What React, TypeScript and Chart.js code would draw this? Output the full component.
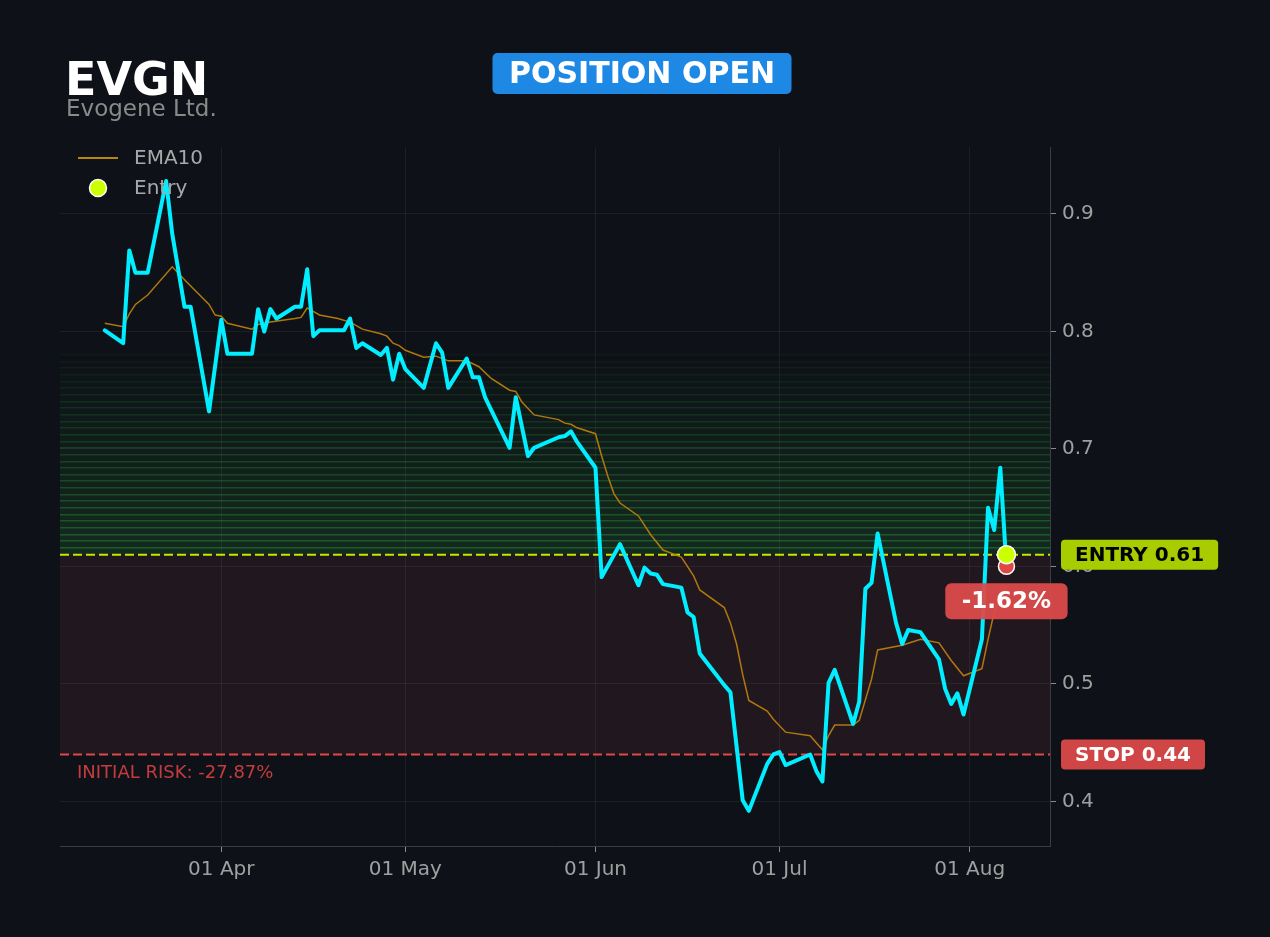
import React, { useEffect, useRef } from "react";
import { Chart, registerables } from "chart.js";

Chart.register(...registerables);

// ---------- data ----------
const closeDates = [
  "2026-03-13", "2026-03-16", "2026-03-17", "2026-03-18", "2026-03-19", "2026-03-20",
  "2026-03-23", "2026-03-24", "2026-03-26", "2026-03-27", "2026-03-30",
  "2026-04-01", "2026-04-02", "2026-04-06", "2026-04-07", "2026-04-08", "2026-04-09", "2026-04-10",
  "2026-04-13", "2026-04-14", "2026-04-15", "2026-04-16", "2026-04-17",
  "2026-04-20", "2026-04-21", "2026-04-22", "2026-04-23", "2026-04-24",
  "2026-04-27", "2026-04-28", "2026-04-29", "2026-04-30", "2026-05-01",
  "2026-05-04", "2026-05-06", "2026-05-07", "2026-05-08",
  "2026-05-11", "2026-05-12", "2026-05-13", "2026-05-14",
  "2026-05-18", "2026-05-19", "2026-05-21", "2026-05-22",
  "2026-05-26", "2026-05-27", "2026-05-28", "2026-05-29",
  "2026-06-01", "2026-06-02", "2026-06-05",
  "2026-06-08", "2026-06-09", "2026-06-10", "2026-06-11", "2026-06-12",
  "2026-06-15", "2026-06-16", "2026-06-17", "2026-06-18",
  "2026-06-22", "2026-06-23", "2026-06-25", "2026-06-26",
  "2026-06-29", "2026-06-30", "2026-07-01", "2026-07-02",
  "2026-07-06", "2026-07-07", "2026-07-08", "2026-07-09", "2026-07-10",
  "2026-07-13", "2026-07-14", "2026-07-15", "2026-07-16", "2026-07-17",
  "2026-07-20", "2026-07-21", "2026-07-22", "2026-07-23", "2026-07-24",
  "2026-07-27", "2026-07-28", "2026-07-29", "2026-07-30", "2026-07-31",
  "2026-08-03", "2026-08-04", "2026-08-05", "2026-08-06", "2026-08-07",
];
const closeValues = [
  0.801, 0.790, 0.869, 0.850, 0.850, 0.850,
  0.928, 0.883, 0.821, 0.821, 0.732,
  0.810, 0.781, 0.781, 0.819, 0.800, 0.819, 0.811,
  0.821, 0.821, 0.853, 0.796, 0.801,
  0.801, 0.801, 0.811, 0.786, 0.790,
  0.780, 0.786, 0.759, 0.781, 0.768,
  0.752, 0.790, 0.782, 0.752,
  0.777, 0.761, 0.761, 0.744,
  0.701, 0.744, 0.694, 0.701,
  0.710, 0.711, 0.715, 0.706,
  0.684, 0.591, 0.619,
  0.584, 0.599, 0.594, 0.593, 0.585,
  0.582, 0.561, 0.557, 0.526,
  0.499, 0.493, 0.401, 0.392,
  0.432, 0.440, 0.442, 0.431,
  0.440, 0.426, 0.417, 0.501, 0.512,
  0.466, 0.485, 0.581, 0.586, 0.628,
  0.552, 0.534, 0.546, 0.545, 0.544,
  0.521, 0.496, 0.483, 0.492, 0.474,
  0.538, 0.650, 0.631, 0.684, 0.600,
];

const emaDates = [
  "2026-03-13", "2026-03-16", "2026-03-17", "2026-03-18", "2026-03-20", "2026-03-24",
  "2026-03-26", "2026-03-30", "2026-03-31", "2026-04-01", "2026-04-02", "2026-04-06",
  "2026-04-07", "2026-04-09", "2026-04-13", "2026-04-14", "2026-04-15", "2026-04-17",
  "2026-04-20", "2026-04-22", "2026-04-24", "2026-04-27", "2026-04-28", "2026-04-29",
  "2026-04-30", "2026-05-01", "2026-05-04", "2026-05-06", "2026-05-08", "2026-05-11",
  "2026-05-13", "2026-05-15", "2026-05-18", "2026-05-19", "2026-05-20", "2026-05-22",
  "2026-05-26", "2026-05-27", "2026-05-28", "2026-05-29", "2026-06-01", "2026-06-02",
  "2026-06-03", "2026-06-04", "2026-06-05", "2026-06-08", "2026-06-10", "2026-06-12",
  "2026-06-15", "2026-06-17", "2026-06-18", "2026-06-22", "2026-06-23", "2026-06-24",
  "2026-06-25", "2026-06-26", "2026-06-29", "2026-06-30", "2026-07-02", "2026-07-06",
  "2026-07-08", "2026-07-09", "2026-07-10", "2026-07-13", "2026-07-14", "2026-07-16",
  "2026-07-17", "2026-07-21", "2026-07-24", "2026-07-27", "2026-07-29", "2026-07-31",
  "2026-08-03", "2026-08-04", "2026-08-05", "2026-08-06", "2026-08-07",
];
const emaValues = [
  0.807, 0.804, 0.815, 0.823, 0.831, 0.855,
  0.844, 0.823, 0.814, 0.813, 0.807, 0.802,
  0.806, 0.808, 0.811, 0.812, 0.820, 0.814,
  0.811, 0.808, 0.802, 0.798, 0.796, 0.790,
  0.788, 0.784, 0.778, 0.779, 0.775, 0.775,
  0.770, 0.760, 0.750, 0.749, 0.740, 0.729,
  0.725, 0.722, 0.721, 0.718, 0.713, 0.694,
  0.677, 0.662, 0.654, 0.643, 0.627, 0.614,
  0.608, 0.592, 0.580, 0.565, 0.552, 0.534,
  0.508, 0.486, 0.477, 0.470, 0.459, 0.456,
  0.444, 0.456, 0.465, 0.465, 0.469, 0.504,
  0.529, 0.533, 0.538, 0.535, 0.520, 0.507,
  0.513, 0.538, 0.561, 0.575, 0.583,
];

const yTickValues = [0.4, 0.5, 0.6, 0.7, 0.8, 0.9];
const xTickDates = ["2026-04-01", "2026-05-01", "2026-06-01", "2026-07-01", "2026-08-01"];
const xTickLabels = ["01 Apr", "01 May", "01 Jun", "01 Jul", "01 Aug"];

const ticker = "EVGN";
const companyName = "Evogene Ltd.";
const statusText = "POSITION OPEN";
const entryDate = "2026-08-07";
const entryPrice = 0.61;
const stopPrice = 0.44;
const lastPrice = 0.6001;
const targetZoneTop = 0.78;

// ---------- helpers ----------
const FONT = "'DejaVu Sans', sans-serif";
const dayNum = (s: string) => {
  const [y, m, d] = s.split("-").map(Number);
  return Date.UTC(y, m - 1, d) / 86400000;
};
const X_MIN = dayNum("2026-04-01") - 26.3;
const X_MAX = dayNum("2026-08-01") + 13.1;

function roundRect(ctx: CanvasRenderingContext2D, x: number, y: number, w: number, h: number, r: number) {
  ctx.beginPath();
  ctx.moveTo(x + r, y);
  ctx.lineTo(x + w - r, y);
  ctx.arcTo(x + w, y, x + w, y + r, r);
  ctx.lineTo(x + w, y + h - r);
  ctx.arcTo(x + w, y + h, x + w - r, y + h, r);
  ctx.lineTo(x + r, y + h);
  ctx.arcTo(x, y + h, x, y + h - r, r);
  ctx.lineTo(x, y + r);
  ctx.arcTo(x, y, x + r, y, r);
  ctx.closePath();
}

const overlayPlugin = {
  id: "overlay",
  beforeDraw(chart: any) {
    const { ctx, chartArea: a, scales } = chart;
    const ys = scales.y;
    ctx.save();
    ctx.fillStyle = "#0e1117";
    ctx.fillRect(0, 0, chart.width, chart.height);
    // risk zone
    const yEntry = ys.getPixelForValue(entryPrice);
    const yStop = ys.getPixelForValue(stopPrice);
    ctx.fillStyle = "#21171f";
    ctx.fillRect(a.left, yEntry, a.right - a.left, yStop - yEntry);
    // green gradient zone made of bands
    const N = 30;
    const step = (targetZoneTop - entryPrice) / N;
    for (let i = 0; i < N; i++) {
      const t = i / N;
      const y0 = ys.getPixelForValue(entryPrice + i * step);
      const y1 = ys.getPixelForValue(entryPrice + (i + 1) * step);
      ctx.fillStyle = `rgba(34,110,50,${0.27 * (1 - t)})`;
      ctx.fillRect(a.left, y1, a.right - a.left, y0 - y1);
      ctx.fillStyle = `rgba(42,130,56,${0.55 * (1 - t) + 0.06})`;
      ctx.fillRect(a.left, Math.round(y1) - 1, a.right - a.left, 1.5);
    }
    ctx.restore();
  },
  beforeDatasetsDraw(chart: any) {
    const { ctx, chartArea: a, scales } = chart;
    const ys = scales.y;
    ctx.save();
    ctx.lineWidth = 2;
    ctx.setLineDash([9, 4]);
    const yEntry = ys.getPixelForValue(entryPrice);
    ctx.strokeStyle = "#c8e600";
    ctx.beginPath();
    ctx.moveTo(a.left, yEntry);
    ctx.lineTo(a.right, yEntry);
    ctx.stroke();
    const yStop = ys.getPixelForValue(stopPrice);
    ctx.strokeStyle = "#e04848";
    ctx.beginPath();
    ctx.moveTo(a.left, yStop);
    ctx.lineTo(a.right, yStop);
    ctx.stroke();
    ctx.restore();
  },
  afterDatasetsDraw(chart: any) {
    const { ctx, chartArea: a, scales } = chart;
    const xs = scales.x;
    const ys = scales.y;
    ctx.save();

    // header
    ctx.textBaseline = "alphabetic";
    ctx.textAlign = "left";
    ctx.fillStyle = "#ffffff";
    ctx.font = `bold 46px ${FONT}`;
    ctx.fillText(ticker, 65, 95);
    ctx.fillStyle = "#8a8a8a";
    ctx.font = `23px ${FONT}`;
    ctx.fillText(companyName, 66, 116);

    // status badge
    ctx.font = `bold 30px ${FONT}`;
    const sw = ctx.measureText(statusText).width;
    const bw = sw + 33;
    const bx = 642 - bw / 2;
    ctx.fillStyle = "#1e88e5";
    roundRect(ctx, bx, 53, bw, 41, 5);
    ctx.fill();
    ctx.fillStyle = "#ffffff";
    ctx.textAlign = "center";
    ctx.textBaseline = "middle";
    ctx.fillText(statusText, 642, 75);

    // legend
    ctx.strokeStyle = "#b8860b";
    ctx.lineWidth = 2;
    ctx.beginPath();
    ctx.moveTo(78, 158);
    ctx.lineTo(118, 158);
    ctx.stroke();
    ctx.beginPath();
    ctx.arc(98, 188, 8.5, 0, Math.PI * 2);
    ctx.fillStyle = "#ccff00";
    ctx.fill();
    ctx.strokeStyle = "#ffffff";
    ctx.lineWidth = 1.5;
    ctx.stroke();
    ctx.font = `20px ${FONT}`;
    ctx.fillStyle = "#a8a8a8";
    ctx.textAlign = "left";
    ctx.fillText("EMA10", 134, 159);
    ctx.fillText("Entry", 134, 189);

    // initial risk text
    const risk = ((stopPrice / entryPrice - 1) * 100).toFixed(2);
    ctx.font = `18px ${FONT}`;
    ctx.fillStyle = "#c63c3e";
    ctx.fillText(`INITIAL RISK: ${risk}%`, 77, 773);

    // right labels
    const lbl = (text: string, y: number, bg: string, fg: string) => {
      ctx.font = `bold 20px ${FONT}`;
      const w = ctx.measureText(text).width + 28;
      ctx.fillStyle = bg;
      roundRect(ctx, a.right + 11, y - 15, w, 30, 4);
      ctx.fill();
      ctx.fillStyle = fg;
      ctx.textAlign = "left";
      ctx.textBaseline = "middle";
      ctx.fillText(text, a.right + 25, y + 1);
    };
    lbl(`ENTRY ${entryPrice.toFixed(2)}`, ys.getPixelForValue(entryPrice), "#a8cc00", "#000000");
    lbl(`STOP ${stopPrice.toFixed(2)}`, ys.getPixelForValue(stopPrice), "#d04545", "#ffffff");

    // pnl badge
    const pnl = (lastPrice / entryPrice - 1) * 100;
    const pnlText = `${pnl >= 0 ? "+" : ""}${pnl.toFixed(2)}%`;
    const px = xs.getPixelForValue(dayNum(entryDate));
    const py = ys.getPixelForValue(lastPrice);
    ctx.font = `bold 23px ${FONT}`;
    const pw = ctx.measureText(pnlText).width + 33;
    ctx.fillStyle = "rgba(220,74,74,0.95)";
    roundRect(ctx, px - pw / 2, py + 17, pw, 36, 6);
    ctx.fill();
    ctx.fillStyle = "#ffffff";
    ctx.textAlign = "center";
    ctx.textBaseline = "middle";
    ctx.fillText(pnlText, px, py + 36);

    ctx.restore();
  },
};

export default function App() {
  const ref = useRef<HTMLCanvasElement | null>(null);
  useEffect(() => {
    document.body.style.margin = "0";
    document.body.style.background = "#0e1117";
    if (!ref.current) return;
    const priceData = closeDates.map((d, i) => ({ x: dayNum(d), y: closeValues[i] }));
    const emaData = emaDates.map((d, i) => ({ x: dayNum(d), y: emaValues[i] }));
    const chart = new Chart(ref.current, {
      type: "line",
      data: {
        datasets: [
          {
            label: "Entry",
            data: [{ x: dayNum(entryDate), y: entryPrice }],
            showLine: false,
            pointRadius: 9,
            pointBackgroundColor: "#ccff00",
            pointBorderColor: "#ffffff",
            pointBorderWidth: 1.5,
            order: 0,
          },
          {
            label: "Last",
            data: [{ x: dayNum(entryDate), y: lastPrice }],
            showLine: false,
            pointRadius: 8,
            pointBackgroundColor: "#e04848",
            pointBorderColor: "#ffffff",
            pointBorderWidth: 1.5,
            order: 1,
          },
          {
            label: "Close",
            data: priceData,
            borderColor: "#00eeff",
            borderWidth: 4,
            borderJoinStyle: "round",
            borderCapStyle: "round",
            pointRadius: 0,
            tension: 0,
            order: 2,
          },
          {
            label: "EMA10",
            data: emaData,
            borderColor: "rgba(184,125,12,0.95)",
            borderWidth: 1.5,
            pointRadius: 0,
            tension: 0,
            order: 3,
          },
        ],
      },
      options: {
        responsive: false,
        animation: false,
        events: [],
        layout: { padding: { left: 60, top: 147, right: 0, bottom: 0 } },
        plugins: { legend: { display: false }, tooltip: { enabled: false } },
        scales: {
          x: {
            type: "linear",
            min: X_MIN,
            max: X_MAX,
            afterBuildTicks: (s: any) => {
              s.ticks = xTickDates.map((d) => ({ value: dayNum(d) }));
            },
            afterFit: (s: any) => {
              s.height = 91;
            },
            ticks: {
              autoSkip: false,
              maxRotation: 0,
              padding: 6,
              color: "#a0a0a0",
              font: { family: FONT, size: 20 },
              callback: (v: any) => {
                const i = xTickDates.findIndex((d) => dayNum(d) === v);
                return i >= 0 ? xTickLabels[i] : "";
              },
            },
            grid: { color: "rgba(255,255,255,0.06)", tickColor: "#8a8a8a", tickLength: 6 },
            border: { color: "#3a3d44", width: 1 },
          },
          y: {
            type: "linear",
            position: "right",
            min: 0.3621,
            max: 0.957,
            afterBuildTicks: (s: any) => {
              s.ticks = yTickValues.map((v) => ({ value: v }));
            },
            afterFit: (s: any) => {
              s.width = 220;
            },
            ticks: {
              padding: 6,
              color: "#a0a0a0",
              font: { family: FONT, size: 20 },
              callback: (v: any) => String(Math.round(v * 10) / 10),
            },
            grid: { color: "rgba(255,255,255,0.06)", tickColor: "#8a8a8a", tickLength: 6 },
            border: { color: "#3a3d44", width: 1 },
          },
        },
      },
      plugins: [overlayPlugin],
    } as any);
    return () => chart.destroy();
  }, []);
  return (
    <div style={{ width: 1270, height: 937, background: "#0e1117" }}>
      <canvas ref={ref} width={1270} height={937} style={{ display: "block" }} />
    </div>
  );
}
